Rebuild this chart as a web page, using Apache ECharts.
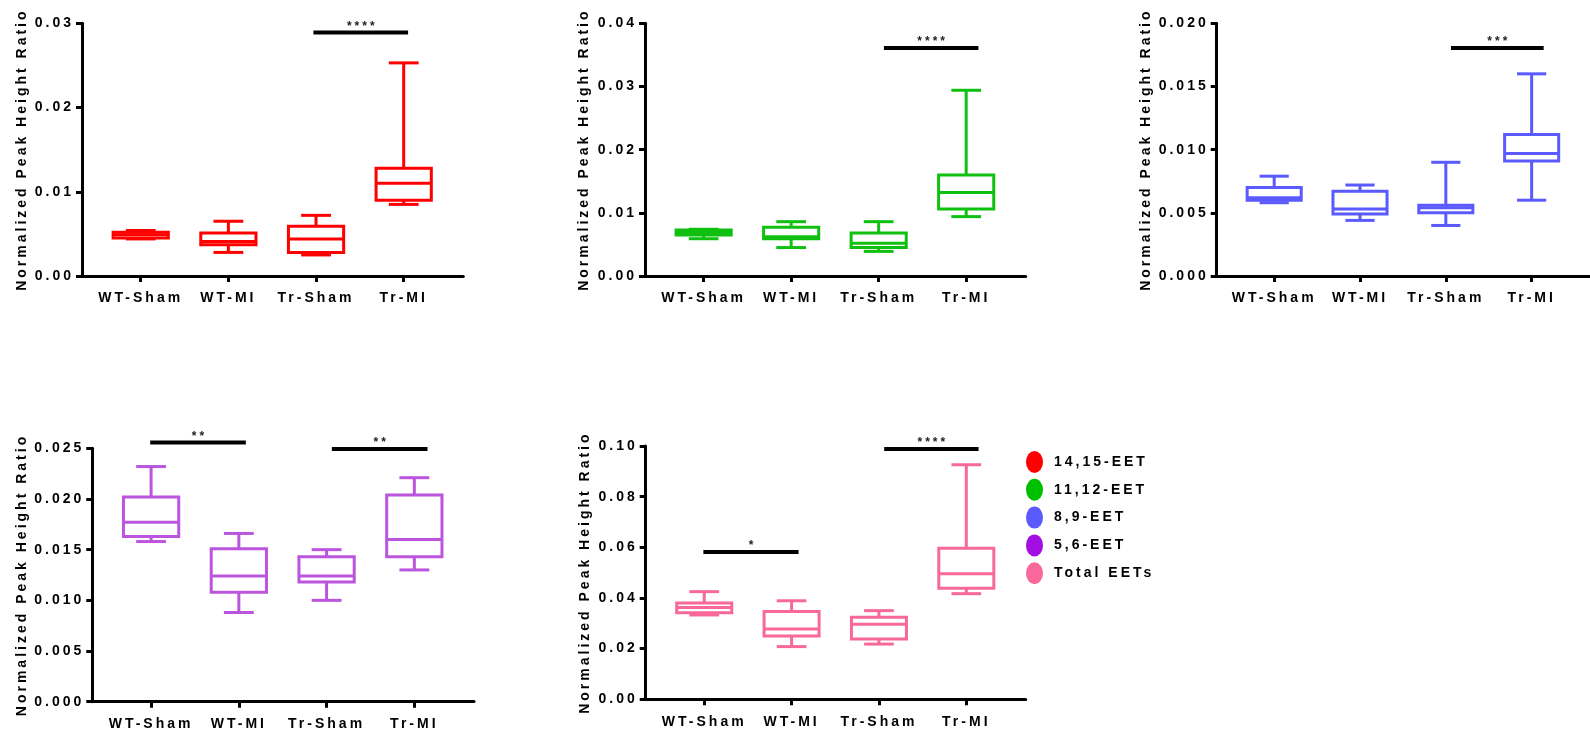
<!DOCTYPE html>
<html><head><meta charset="utf-8">
<script src="https://cdn.jsdelivr.net/npm/echarts@6/dist/echarts.min.js"></script>
<style>html,body{margin:0;padding:0;background:#fff}#c{width:1590px;height:735px}</style>
</head><body><div id="c"></div>
<script>
// ---------- data ----------
const categories = ['WT-Sham', 'WT-MI', 'Tr-Sham', 'Tr-MI'];
const seriesNames = ['14,15-EET', '11,12-EET', '8,9-EET', '5,6-EET', 'Total EETs'];
const yAxisTitle = 'Normalized Peak Height Ratio';

// each row: [min, Q1, median, Q3, max]
const eet1415 = [
  [0.0044, 0.0045, 0.0049, 0.0052, 0.0054],
  [0.0028, 0.0037, 0.0041, 0.0051, 0.0065],
  [0.0025, 0.0028, 0.0044, 0.0059, 0.0072],
  [0.0085, 0.0090, 0.0110, 0.0128, 0.0253]
];
const eet1112 = [
  [0.0059, 0.0065, 0.0069, 0.0073, 0.0074],
  [0.0045, 0.0059, 0.0062, 0.0077, 0.0086],
  [0.0039, 0.0045, 0.0052, 0.0068, 0.0086],
  [0.0094, 0.0106, 0.0132, 0.0160, 0.0294]
];
const eet89 = [
  [0.0058, 0.0060, 0.0062, 0.0070, 0.0079],
  [0.0044, 0.0049, 0.0053, 0.0067, 0.0072],
  [0.0040, 0.0050, 0.0054, 0.0056, 0.0090],
  [0.0060, 0.0091, 0.0097, 0.0112, 0.0160]
];
const eet56 = [
  [0.0158, 0.0163, 0.0177, 0.0202, 0.0232],
  [0.0088, 0.0108, 0.0124, 0.0151, 0.0166],
  [0.0100, 0.0118, 0.0124, 0.0143, 0.0150],
  [0.0130, 0.0143, 0.0160, 0.0204, 0.0221]
];
const eetTotal = [
  [0.0333, 0.0342, 0.0362, 0.0380, 0.0425],
  [0.0208, 0.0250, 0.0278, 0.0347, 0.0389],
  [0.0218, 0.0238, 0.0296, 0.0324, 0.0350],
  [0.0417, 0.0438, 0.0496, 0.0596, 0.0926]
];

// significance bars: [fromPosition, toPosition, value, stars]
const sig1415 = [[2.97, 4.05, 0.0289, '****']];
const sig1112 = [[3.06, 4.14, 0.0361, '****']];
const sig89 = [[3.06, 4.14, 0.01805, '***']];
const sig56 = [[0.99, 2.08, 0.02556, '**'], [3.06, 4.15, 0.02493, '**']];
const sigTotal = [[0.99, 2.08, 0.0582, '*'], [3.06, 4.14, 0.0988, '****']];

const yMax = [0.03, 0.04, 0.02, 0.025, 0.10];
const yStep = [0.01, 0.01, 0.005, 0.005, 0.02];
const yDecimals = [2, 2, 3, 3, 2];

// ---------- styles ----------
const legendColors = ['#ff0000', '#00bf00', '#5a5aff', '#a30fe3', '#f8689a'];
const boxColors = ['#ff0000', '#10c010', '#5a5aff', '#bb55dd', '#f8689a'];
const panels = [
  { left: 82, right: 1126.7, top: 23.3, bottom: 459, nameGap: 49 },
  { left: 645, right: 564.3, top: 23.3, bottom: 459, nameGap: 52 },
  { left: 1216.7, right: -8, top: 23.3, bottom: 459, nameGap: 61 },
  { left: 92.3, right: 1116, top: 448.3, bottom: 33.3, nameGap: 61 },
  { left: 645.7, right: 564.3, top: 446, bottom: 35.7, nameGap: 52 }
];
const FONT = 'Liberation Sans';
const BOX_W = 0.63, CAP_W = 0.34, LW = 3;

// letter-spaced text like the original figure
(function () {
  const og = HTMLCanvasElement.prototype.getContext;
  HTMLCanvasElement.prototype.getContext = function (t, o) {
    const c = og.call(this, t, o);
    if (c && t === '2d' && 'letterSpacing' in c) { try { c.letterSpacing = '3px'; } catch (e) {} }
    return c;
  };
})();

const boxData = [eet1415, eet1112, eet89, eet56, eetTotal];
const sigData = [sig1415, sig1112, sig89, sig56, sigTotal];

function makeBoxRender(color) {
  return function (params, api) {
    const x = api.value(0), mn = api.value(1), q1 = api.value(2), md = api.value(3), q3 = api.value(4), mx = api.value(5);
    const c = (a, b) => api.coord([a, b]);
    const st = { stroke: color, lineWidth: LW, fill: 'none' };
    const line = (p1, p2) => ({ type: 'line', shape: { x1: p1[0], y1: p1[1], x2: p2[0], y2: p2[1] }, style: st });
    const tl = c(x - BOX_W / 2, q3), br = c(x + BOX_W / 2, q1);
    return {
      type: 'group',
      children: [
        line(c(x, q3), c(x, mx)),
        line(c(x, q1), c(x, mn)),
        line(c(x - CAP_W / 2, mx), c(x + CAP_W / 2, mx)),
        line(c(x - CAP_W / 2, mn), c(x + CAP_W / 2, mn)),
        { type: 'rect', shape: { x: tl[0], y: tl[1], width: br[0] - tl[0], height: br[1] - tl[1] }, style: st },
        line(c(x - BOX_W / 2, md), c(x + BOX_W / 2, md))
      ]
    };
  };
}
function makeSigRender(list) {
  return function (params, api) {
    const d = list[params.dataIndex];
    const p1 = api.coord([d[0], d[2]]), p2 = api.coord([d[1], d[2]]);
    return {
      type: 'group',
      children: [
        { type: 'line', shape: { x1: p1[0], y1: p1[1], x2: p2[0], y2: p2[1] }, style: { stroke: '#000', lineWidth: 4 } },
        { type: 'text', style: { text: d[3], x: (p1[0] + p2[0]) / 2 + 1.5, y: p1[1] - 6, align: 'center', verticalAlign: 'middle', font: 'bold 12px "' + FONT + '"', fill: '#222' } }
      ]
    };
  };
}

const grid = [], xAxis = [], yAxis = [], series = [];
panels.forEach((p, i) => {
  grid.push({ left: p.left, right: p.right, top: p.top, bottom: p.bottom, containLabel: false });
  xAxis.push({
    gridIndex: i, type: 'value', min: 0.33, max: 4.68,
    axisLine: { show: true, onZero: false, lineStyle: { color: '#000', width: LW } },
    axisTick: { show: true, customValues: [1, 2, 3, 4], length: 6, lineStyle: { color: '#000', width: LW } },
    axisLabel: { customValues: [1, 2, 3, 4], formatter: v => categories[Math.round(v) - 1], margin: 14,
      fontFamily: FONT, fontSize: 14, fontWeight: 'bold', color: '#000' },
    splitLine: { show: false }
  });
  yAxis.push({
    gridIndex: i, type: 'value', min: 0, max: yMax[i], interval: yStep[i],
    axisLine: { show: true, onZero: false, lineStyle: { color: '#000', width: LW } },
    axisTick: { show: true, length: 6, lineStyle: { color: '#000', width: LW } },
    axisLabel: { formatter: v => v.toFixed(yDecimals[i]), margin: 8, fontFamily: FONT, fontSize: 14, fontWeight: 'bold', color: '#000' },
    splitLine: { show: false },
    name: yAxisTitle, nameLocation: 'middle', nameGap: p.nameGap,
    nameTextStyle: { fontFamily: FONT, fontSize: 14, fontWeight: 'bold', color: '#000' }
  });
  series.push({
    type: 'custom', name: seriesNames[i], xAxisIndex: i, yAxisIndex: i,
    itemStyle: { color: legendColors[i] },
    renderItem: makeBoxRender(boxColors[i]),
    encode: { x: 0, y: [1, 2, 3, 4, 5] },
    data: categories.map((c, k) => [k + 1].concat(boxData[i][k])),
    silent: true, clip: false
  });
  series.push({
    type: 'custom', name: 'sig' + i, xAxisIndex: i, yAxisIndex: i,
    renderItem: makeSigRender(sigData[i]),
    encode: { x: [0, 1], y: 2 },
    data: sigData[i].map(d => [d[0], d[1], d[2]]),
    silent: true, clip: false
  });
});

const chart = echarts.init(document.getElementById('c'), null, { renderer: 'canvas' });
chart.setOption({
  backgroundColor: '#fff',
  animation: false,
  grid, xAxis, yAxis, series,
  legend: {
    orient: 'vertical', left: 1021, top: 446,
    itemWidth: 17, itemHeight: 22, itemGap: 5.8,
    icon: 'path://M50,0A50,50,0,1,1,50,100A50,50,0,1,1,50,0Z',
    symbolKeepAspect: false,
    selectedMode: false,
    data: seriesNames,
    textStyle: { fontFamily: FONT, fontSize: 14, fontWeight: 'bold', color: '#000', padding: [0, 0, 0, 6] }
  }
});
</script>
</body></html>
